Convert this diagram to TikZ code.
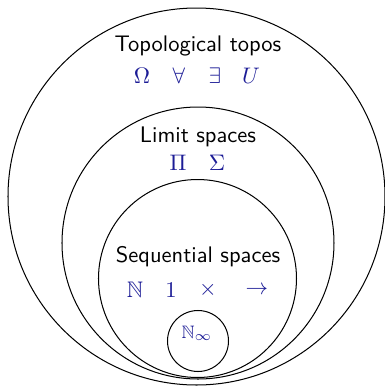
\documentclass[tikz,border=0pt]{standalone}
\usepackage{amssymb}
\definecolor{sym}{RGB}{28,28,150}
\begin{document}
\begin{tikzpicture}[x=0.4444pt,y=-0.4444pt,
  ring/.style={draw,circle,inner sep=0pt,line width=0.45pt},
  title/.style={font=\sffamily,inner sep=0pt},
  symb/.style={text=sym,inner sep=0pt}]
\useasboundingbox (0,0) rectangle (385,386);
\clip (0,0) rectangle (385,386);
\node[ring,minimum size=377*0.4444pt] (topos) at (196.5,196.5) {};
\node[ring,minimum size=272*0.4444pt] (limit) at (198,243) {};
\node[ring,minimum size=198*0.4444pt] (seq) at (197.5,278.5) {};
\node[ring,minimum size=61*0.4444pt] (ninf) at (198,341) {};
\node[title] (t1) at (198,46) {Topological topos};
\node[symb] (om) at (142,76) {$\Omega$};
\node[symb] (fa) at (179,76) {$\forall$};
\node[symb] (ex) at (215,76) {$\exists$};
\node[symb] (u) at (251,76) {$U$};
\node[title] (t2) at (198,137) {Limit spaces};
\node[symb] (pi) at (178,163) {$\Pi$};
\node[symb] (si) at (217,163) {$\Sigma$};
\node[title] (t3) at (198,257) {Sequential spaces};
\node[symb] (nn) at (135,290) {$\mathbb{N}$};
\node[symb] (one) at (171,290) {$1$};
\node[symb] (ti) at (208,290) {$\times$};
\node[symb] (ar) at (257,290) {$\to$};
\node[symb,font=\footnotesize] (ni) at (197,333) {$\mathbb{N}_\infty$};
\end{tikzpicture}
\end{document}
